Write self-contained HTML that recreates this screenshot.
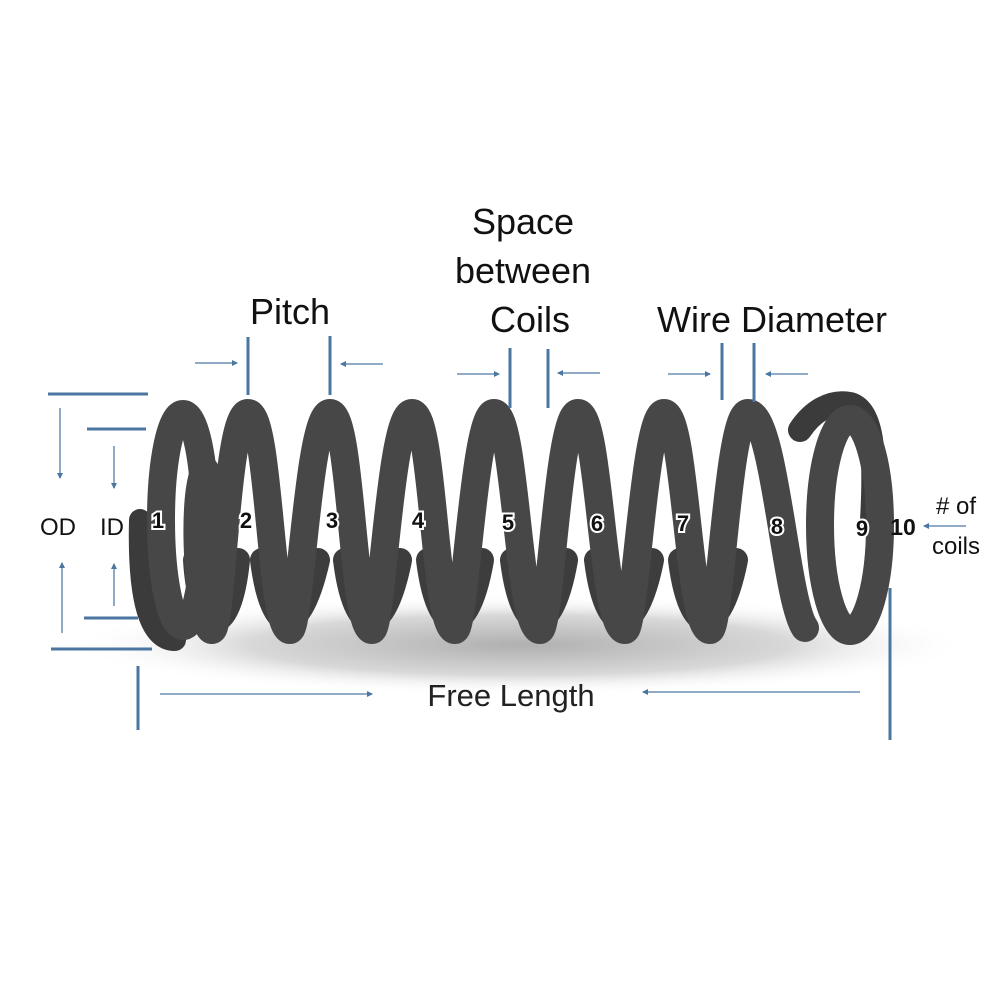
<!DOCTYPE html>
<html><head><style>
html,body{margin:0;padding:0;background:#fff;}
svg{display:block}
text{font-family:"Liberation Sans",sans-serif;}
</style></head><body>
<svg width="1000" height="1000" viewBox="0 0 1000 1000" xmlns="http://www.w3.org/2000/svg">
<defs>
<radialGradient id="sh" cx="0.5" cy="0.5" r="0.5">
<stop offset="0" stop-color="#b0b0b0"/><stop offset="0.6" stop-color="#d8d8d8"/><stop offset="1" stop-color="#fff" stop-opacity="0"/>
</radialGradient>
<marker id="ah" markerWidth="6" markerHeight="6" refX="5" refY="3" orient="auto" markerUnits="userSpaceOnUse"><path d="M0,0 L6,3 L0,6 z" fill="#4a76a0"/></marker>
</defs>
<ellipse cx="520" cy="645" rx="450" ry="50" fill="url(#sh)"/>
<g fill="none" stroke-linecap="round">
<path d="M872 520 C876 450 872 410 850 404 C830 400 812 412 800 430" stroke="#3b3b3b" stroke-width="24"/>
<path d="M140 520 C138 600 150 640 175 640" stroke="#3b3b3b" stroke-width="22"/>
<!-- back strands -->
<g stroke="#3d3d3d" stroke-width="24">
<path d="M262 560 C272 640 300 640 318 560"/>
<path d="M345 560 C355 640 384 640 400 560"/>
<path d="M428 560 C438 640 468 640 482 560"/>
<path d="M512 560 C522 640 552 640 566 560"/>
<path d="M596 560 C606 640 636 640 652 560"/>
<path d="M680 560 C690 640 720 640 736 560"/>
<path d="M195 560 C200 640 230 640 238 560"/>
</g>
<g stroke="#474747" stroke-width="28">
<ellipse cx="183" cy="520" rx="22" ry="106"/>
<path d="M212 630 C222 630 226 413 248 413 C270 413 270 630 290 630
 C300 630 308 413 330 413 C352 413 352 630 372 630
 C382 630 390 413 412 413 C434 413 434 630 455 630
 C465 630 474 413 494 413 C516 413 518 630 540 630
 C550 630 558 413 578 413 C600 413 602 630 625 630
 C635 630 644 413 664 413 C686 413 688 630 710 630
 C720 630 728 413 748 413 C775 413 785 600 805 628"/>
<path d="M212 630 C200 630 190 500 205 470" />
<ellipse cx="850" cy="525" rx="30" ry="106"/>
</g>
</g>
<g font-weight="bold" font-size="22" text-anchor="middle" fill="#111" stroke="#fff" stroke-width="4" paint-order="stroke">
<text x="158" y="528">1</text><text x="246" y="528">2</text><text x="332" y="528">3</text><text x="418" y="528">4</text><text x="508" y="530">5</text><text x="597" y="531">6</text><text x="683" y="531">7</text><text x="777" y="534">8</text><text x="862" y="536">9</text>
</g>
<text x="903" y="535" font-weight="bold" font-size="23" text-anchor="middle" fill="#111">10</text>
<g stroke="#4a76a0" stroke-width="3">
<line x1="48" y1="394" x2="148" y2="394"/><line x1="87" y1="429" x2="146" y2="429"/>
<line x1="84" y1="618" x2="138" y2="618"/><line x1="51" y1="649" x2="152" y2="649"/>
<line x1="248" y1="337" x2="248" y2="395"/><line x1="330" y1="336" x2="330" y2="395"/>
<line x1="510" y1="348" x2="510" y2="408"/><line x1="548" y1="349" x2="548" y2="408"/>
<line x1="722" y1="343" x2="722" y2="400"/><line x1="754" y1="343" x2="754" y2="402"/>
<line x1="138" y1="666" x2="138" y2="730"/><line x1="890" y1="588" x2="890" y2="740"/>
</g>
<g stroke="#6a8fb5" stroke-width="1.5" marker-end="url(#ah)">
<line x1="60" y1="408" x2="60" y2="478"/><line x1="114" y1="446" x2="114" y2="488"/>
<line x1="62" y1="633" x2="62" y2="563"/><line x1="114" y1="606" x2="114" y2="564"/>
<line x1="195" y1="363" x2="237" y2="363"/><line x1="383" y1="364" x2="341" y2="364"/>
<line x1="457" y1="374" x2="499" y2="374"/><line x1="600" y1="373" x2="558" y2="373"/>
<line x1="668" y1="374" x2="710" y2="374"/><line x1="808" y1="374" x2="766" y2="374"/>
<line x1="160" y1="694" x2="372" y2="694"/><line x1="860" y1="692" x2="643" y2="692"/>
<line x1="966" y1="526" x2="924" y2="526"/>
</g>
<g font-size="36" fill="#111" text-anchor="middle">
<text x="290" y="324">Pitch</text>
<text x="523" y="234">Space</text>
<text x="523" y="283">between</text>
<text x="530" y="332">Coils</text>
<text x="772" y="332">Wire Diameter</text>
</g>
<g font-size="24" fill="#111" text-anchor="middle">
<text x="58" y="535">OD</text><text x="112" y="535">ID</text>
<text x="956" y="514">#  of</text><text x="956" y="554">coils</text>
</g>
<text x="511" y="706" font-size="31" fill="#222" text-anchor="middle">Free Length</text>
</svg>
</body></html>
